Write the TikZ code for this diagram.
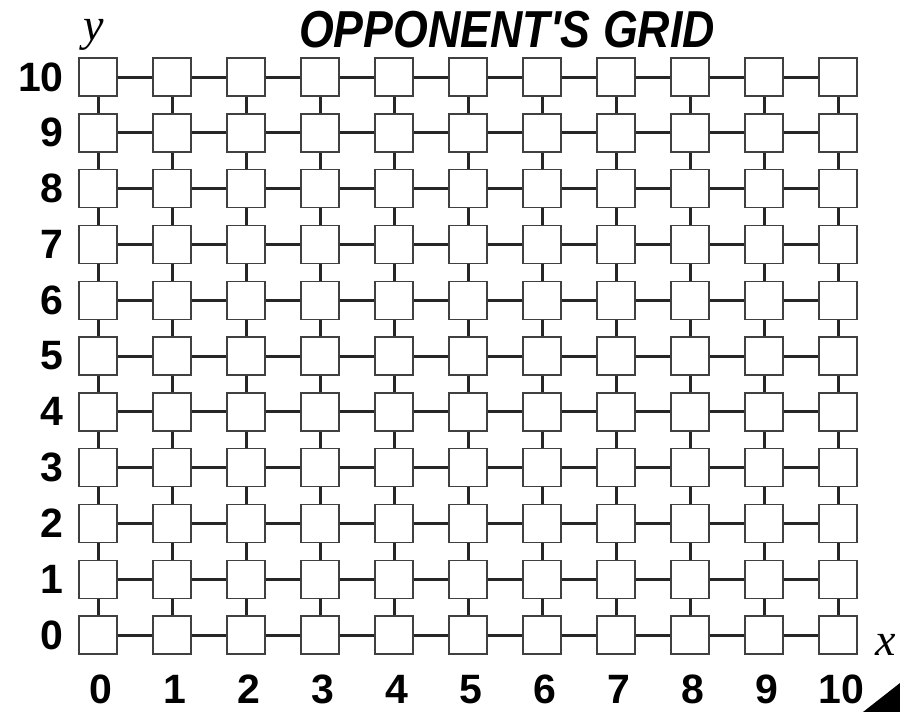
\documentclass[tikz,border=0pt]{standalone}
\usepackage{fontspec}
\usepackage{tikz}
\newfontfamily\digitfont{Liberation Sans}
\newfontfamily\titlefont{Liberation Sans}
\newfontfamily\varfont{Liberation Serif}
\tikzset{
  cell/.style={rectangle,
      draw=black!75,
      fill=white,
      line width=1.4pt,
      minimum width=38pt,
      minimum height=38pt,
      inner sep=0pt},
  link/.style={line width=3pt, draw=black!85},
  coordlabel/.style={font=\fontsize{41}{41}\selectfont\digitfont\bfseries, inner sep=0pt},
  axisname/.style={font=\fontsize{46}{46}\selectfont\varfont\itshape, inner sep=0pt}
}

\begin{document}
\begin{tikzpicture}[x=1pt, y=-1pt]
\useasboundingbox (0,0) rectangle (900,712);
\node[anchor=base, inner sep=0pt,
      font=\fontsize{52}{52}\selectfont\titlefont\bfseries\itshape]
      (title) at (507,47) {\scalebox{0.86}[1]{OPPONENT'S GRID}};
\foreach \i in {0,...,10}{
  \foreach \j in {0,...,10}{
    \node[cell] (c-\i-\j) at ({98+74*\i},{635-55.8*\j}) {};
  }
}
\foreach \i in {0,...,10}{
  \foreach \j in {0,...,9}{
    \pgfmathtruncatemacro{\k}{\j+1}
    \draw[link] (c-\i-\j) -- (c-\i-\k);
    \draw[link] (c-\j-\i) -- (c-\k-\i);
  }
}
\foreach \j in {0,...,10}{
  \node[coordlabel, anchor=east] (row-\j) at (64,{635-55.8*\j}) {\j};
}
\foreach \i in {0,...,10}{
  \node[coordlabel, anchor=base] (col-\i) at ({101+74*\i},703) {\i};
}
\node[axisname, anchor=base] (ylab) at (94,40) {y};
\node[axisname, anchor=base] (xlab) at (886,655) {x};
\coordinate (tri-a) at (863,712);
\coordinate (tri-b) at (900,712);
\coordinate (tri-c) at (900,683);
\fill (tri-a) -- (tri-b) -- (tri-c) -- cycle;
\end{tikzpicture}
\end{document}
